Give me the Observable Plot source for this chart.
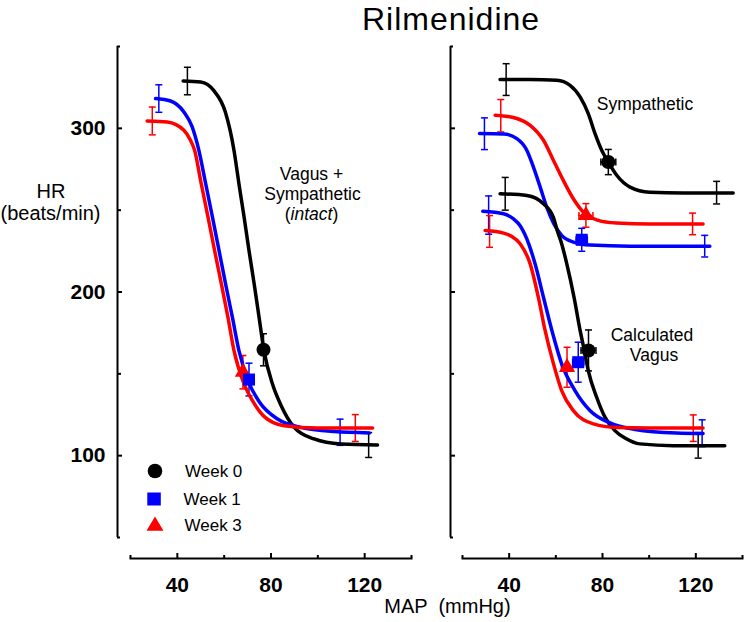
<!DOCTYPE html>
<html>
<head>
<meta charset="utf-8">
<script src="https://cdn.jsdelivr.net/npm/d3@7"></script>
<script src="https://cdn.jsdelivr.net/npm/@observablehq/plot@0.6"></script>
<style>
  body { margin: 0; background: #fff; }
  #wrap { position: relative; width: 744px; height: 622px; font-family: "Liberation Sans", Arial, Helvetica, sans-serif; }
  #wrap > svg { position: absolute; top: 0; }
  #overlay { left: 0; pointer-events: none; }
</style>
</head>
<body>
<div id="wrap"></div>
<script>
// ---------------- data ----------------
const title = "Rilmenidine";
const yTitle = ["HR", "(beats/min)"];
const xTitle = "MAP  (mmHg)";
const weeks = ["Week 0", "Week 1", "Week 3"];
const weekColors = ["#000000", "#0000ff", "#ff0000"];
const xDomain = [20, 140];
const yDomain = [50, 350];
const xMajorTicks = [40, 80, 120];
const xMinorTicks = [20, 60, 100, 140];
const yMajorTicks = [100, 200, 300];
const yMinorTicks = [150, 250];
const yEndTicks = [50, 350];

// fitted curves, [MAP, HR]
const intactWeek0 = [[42.5,328.9],[50,328.3],[55.6,323],[60.5,310],[62.5,299],[64.2,286.5],[66.3,266.2],[68.5,245.8],[70.6,225.4],[72.8,205],[74.9,184.6],[77,164.2],[80.6,143.9],[84.2,131],[89.9,117.3],[98.4,110.2],[109.8,107.1],[125.5,106.5]];
const intactWeek1 = [[30.7,318.2],[37.1,316.7],[42.8,310],[46.3,301],[49.2,286.5],[52.1,266.2],[55,245.8],[57.8,225.4],[60.6,205],[63.5,184.6],[66.3,164.2],[70.6,144.5],[75.2,132.5],[82.8,122.4],[92.7,117.3],[107,114.7],[122,113.9]];
const intactWeek3 = [[27.1,304.5],[35.7,303.9],[42.8,298.8],[45.5,293],[47.4,286.5],[50.2,266.2],[53.1,245.8],[55.9,225.4],[58.8,205],[61.6,184.6],[64.2,164.2],[68.5,143.9],[72.1,133.6],[77,124],[85.6,118.3],[99.9,116.9],[123.4,116.9]];

const sympWeek0 = [[36.1,329.8],[49,329.8],[60.4,329.4],[66.1,326.3],[70.4,319.2],[73.9,309],[76.8,296.8],[79.7,286.5],[82.5,279.4],[86.1,271.3],[91.8,264.1],[100.3,261],[114.6,260.5],[136,260.5]];
const sympWeek1 = [[27.3,296.8],[37.6,296.6],[43.3,293.7],[47.6,286.5],[50.4,276.3],[53.3,264.1],[56.1,251.8],[59,242.1],[62.5,234.6],[67.5,230.5],[74.7,228.7],[91.8,228],[126,228]];
const sympWeek3 = [[34,308],[41.8,306.6],[49,301.8],[54.7,292.7],[59,280.4],[63.2,268.2],[67.5,257],[71.8,248.8],[77.5,244.1],[86.1,242.1],[100.3,241.5],[123.1,241.5]];

const vagusWeek0 = [[36.1,260],[47.6,259],[54.7,253.9],[59,245.5],[60.4,238.5],[62.5,229.5],[64.7,217.2],[67.8,196.8],[70.4,176.5],[72.1,165],[73.9,152],[77.5,135.7],[81.1,123.4],[85.3,115.3],[90,110.5],[96,107.2],[110.3,106.1],[132.4,106.1]];
const vagusWeek1 = [[28.7,249.4],[37.6,247.8],[42,244.5],[44.7,240.5],[48.5,229],[51.1,217.2],[54.7,196.8],[58.3,176.5],[62.5,156.1],[68.2,139.8],[74.7,127.5],[83.2,120],[94,116],[111.7,113.8],[123.1,113.5]];
const vagusWeek3 = [[29.7,237.6],[37.6,236],[41,234],[44.7,229.5],[49,217.2],[52.5,196.8],[55.4,176.5],[59,156.1],[62.5,139.8],[67.5,127.5],[76.1,119.4],[86.1,117.2],[100,116.9],[123.1,116.9]];

// plateau means: [week, MAP, HR, HR error]
const intactPlateau = [["Week 0",44.3,328.9,8.4],["Week 0",121.7,106.5,7.6],["Week 1",32.1,318.2,8.4],["Week 1",109.5,114.3,8],["Week 3",29.3,304.5,8.5],["Week 3",116,116.9,8.2]];
const sympPlateau = [["Week 0",38.7,329.8,9.7],["Week 0",128.9,260.7,6.9],["Week 1",29.4,296.7,9.7],["Week 1",123.8,228,6.6],["Week 3",36.4,307.7,9.9],["Week 3",118.6,241.6,6.6]];
const vagusPlateau = [["Week 0",38.3,260,10],["Week 0",121,106.3,7.8],["Week 1",31.2,247,11.7],["Week 1",122.7,113.7,8.2],["Week 3",31.6,237,9.7],["Week 3",118.9,116.8,8.1]];

// resting points: [week, MAP, HR, HR error, MAP error]
const intactMid = [["Week 0",76.8,164.7,9.8,0],["Week 1",70.6,146.5,10,0],["Week 3",68,151,10.2,0]];
const sympMid = [["Week 0",82.5,279.4,7.7,3.2],["Week 1",71.1,231.9,7,2.4],["Week 3",72.9,246.8,7.2,3]];
const vagusMid = [["Week 0",74,164.3,12.5,3.2],["Week 1",69.6,157.1,12.2,2.4],["Week 3",64.8,154,12.2,2.4]];

// panel annotations
const leftNote = ["Vagus +", "Sympathetic"];
const leftNoteItalic = "intact";
const rightNoteTop = "Sympathetic";
const rightNoteBottom = ["Calculated", "Vagus"];

// ---------------- drawing ----------------
const FONT = "'Liberation Sans', Arial, Helvetica, sans-serif";
const symbolOf = {"Week 0": "circle", "Week 1": "square", "Week 3": "triangle"};
const rOf = {"Week 0": 7, "Week 1": 6.8, "Week 3": 6};
const hCap = {draw(ctx, size) { const r = Math.sqrt(size / Math.PI); ctx.moveTo(-r, 0); ctx.lineTo(r, 0); }};
const vCap = {draw(ctx, size) { const r = Math.sqrt(size / Math.PI); ctx.moveTo(0, -r); ctx.lineTo(0, r); }};

function buildPanel(cfg) {
  const lines = cfg.curves.flatMap(([id, week, pts]) => pts.map(([x, y]) => ({id, week, x, y})));
  const plat = cfg.plateau.map(([week, x, y, ye]) => ({week, x, y, ye, xe: 0}));
  const mids = cfg.mid.map(([week, x, y, ye, xe]) => ({week, x, y, ye, xe}));
  const bars = plat.concat(mids);
  const hbars = mids.filter(d => d.xe > 0);
  const ax = {dx: cfg.axisGap, strokeWidth: 2, label: null};
  const eb = {stroke: "week", strokeWidth: 1.5};
  const markerOrder = ["Week 3", "Week 1", "Week 0"];
  return Plot.plot({
    width: cfg.width,
    height: 622,
    marginLeft: cfg.marginLeft,
    marginRight: cfg.marginRight,
    marginTop: 46,
    marginBottom: 64,
    x: {domain: xDomain},
    y: {domain: yDomain, range: [537, 46]},
    color: {domain: weeks, range: weekColors},
    style: {fontFamily: FONT, background: "transparent", overflow: "visible", color: "#000"},
    marks: [
      Plot.frame({anchor: "bottom", strokeWidth: 2}),
      Plot.ruleX([xDomain[0]], {y1: yDomain[0], y2: yDomain[1], dx: cfg.axisGap, strokeWidth: 2}),
      cfg.yLabels
        ? Plot.axisY({...ax, ticks: yMajorTicks, tickSize: -5, tickPadding: 17, fontSize: 21, fontWeight: "bold"})
        : Plot.axisY({...ax, ticks: yMajorTicks, tickSize: -5, fill: "none"}),
      Plot.axisY({...ax, ticks: yMinorTicks, tickSize: -4, fill: "none"}),
      Plot.axisY({...ax, ticks: yEndTicks, tickSize: -3, fill: "none"}),
      Plot.axisX({ticks: xMajorTicks, tickSize: -5, tickPadding: 24, strokeWidth: 2, fontSize: 21, fontWeight: "bold", label: null}),
      Plot.axisX({ticks: xMinorTicks, tickSize: -3, strokeWidth: 2, fill: "none", label: null}),
      Plot.ruleX(bars, {x: "x", y1: d => d.y - d.ye, y2: d => d.y + d.ye, ...eb}),
      Plot.dot(bars, {x: "x", y: d => d.y - d.ye, symbol: hCap, r: 3.5, fill: "none", ...eb}),
      Plot.dot(bars, {x: "x", y: d => d.y + d.ye, symbol: hCap, r: 3.5, fill: "none", ...eb}),
      Plot.ruleY(hbars, {y: "y", x1: d => d.x - d.xe, x2: d => d.x + d.xe, ...eb}),
      Plot.dot(hbars, {x: d => d.x - d.xe, y: "y", symbol: vCap, r: 3.5, fill: "none", ...eb}),
      Plot.dot(hbars, {x: d => d.x + d.xe, y: "y", symbol: vCap, r: 3.5, fill: "none", ...eb}),
      Plot.line(lines, {x: "x", y: "y", z: "id", stroke: "week", strokeWidth: 3.5, curve: "monotone-x", strokeLinejoin: "round"}),
      ...markerOrder.map(w => Plot.dot(mids.filter(d => d.week === w), {x: "x", y: "y", symbol: symbolOf[w], r: rOf[w], fill: "week", stroke: "none"}))
    ]
  });
}

const wrap = document.getElementById("wrap");

const leftPanel = buildPanel({
  width: 420, marginLeft: 130, marginRight: 9, axisGap: -13, yLabels: true,
  curves: [["i0", "Week 0", intactWeek0], ["i1", "Week 1", intactWeek1], ["i3", "Week 3", intactWeek3]],
  plateau: intactPlateau, mid: intactMid
});
leftPanel.style.left = "0px";
wrap.appendChild(leftPanel);

const rightPanel = buildPanel({
  width: 324, marginLeft: 42, marginRight: 2, axisGap: -12, yLabels: false,
  curves: [["s0", "Week 0", sympWeek0], ["s1", "Week 1", sympWeek1], ["s3", "Week 3", sympWeek3],
           ["v0", "Week 0", vagusWeek0], ["v1", "Week 1", vagusWeek1], ["v3", "Week 3", vagusWeek3]],
  plateau: sympPlateau.concat(vagusPlateau), mid: sympMid.concat(vagusMid)
});
rightPanel.style.left = "420px";
wrap.appendChild(rightPanel);

// ---------------- texts, titles and legend ----------------
const ov = d3.create("svg").attr("id", "overlay").attr("width", 744).attr("height", 622)
  .attr("font-family", FONT).attr("fill", "#000");
function txt(x, y, s, size, anchor = "middle") {
  return ov.append("text").attr("x", x).attr("y", y).attr("font-size", size)
    .attr("text-anchor", anchor).style("white-space", "pre").text(s);
}
// multi-line block: one text element, one tspan per line
function block(x, y, lines, size, lead, dxs = []) {
  const t = ov.append("text").attr("x", x).attr("y", y).attr("font-size", size).attr("text-anchor", "middle");
  lines.forEach((s, i) => t.append("tspan").attr("x", x + (dxs[i] || 0)).attr("dy", i ? lead : 0).text(s));
  return t;
}
txt(451, 29.5, title, 32).attr("letter-spacing", 1);
block(50.5, 197.5, yTitle, 20, 22.8, [0.5, 0]);
txt(447.5, 613, xTitle, 20);

const note = block(311.5, 179.5, leftNote, 17.5, 20, [0, 1]);
const last = note.append("tspan").attr("x", 311.5).attr("dy", 20.5);
last.append("tspan").text("(");
last.append("tspan").attr("font-style", "italic").text(leftNoteItalic);
last.append("tspan").text(")");
txt(645, 110, rightNoteTop, 17.5);
block(652, 341, rightNoteBottom, 17.5, 20, [0, 2]);

// legend
const lg = ov.append("g");
lg.append("circle").attr("cx", 155).attr("cy", 471).attr("r", 7.3).attr("fill", weekColors[0]);
lg.append("rect").attr("x", 147.3).attr("y", 492.5).attr("width", 13.5).attr("height", 13).attr("fill", weekColors[1]);
lg.append("path").attr("d", "M155,516.5L163.5,530.7L146.5,530.7Z").attr("fill", weekColors[2]);
txt(185, 477.3, weeks[0], 17, "start");
txt(183.5, 505, weeks[1], 17, "start");
txt(184.5, 530.7, weeks[2], 17, "start");
wrap.appendChild(ov.node());
</script>
</body>
</html>
